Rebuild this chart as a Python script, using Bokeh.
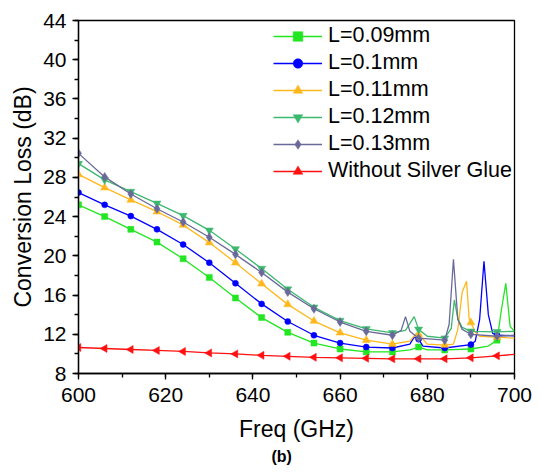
import math
from bokeh.plotting import figure
from bokeh.models import (Legend, LegendItem, SingleIntervalTicker, Range1d, Title)
from bokeh.embed import file_html
from bokeh.resources import INLINE

# ---------------- data ----------------
marker_freqs = [600, 606, 612, 618, 624, 630, 636, 642, 648, 654, 660, 666, 672, 678, 684, 690, 696]

f_009 = [600, 606, 612, 618, 624, 630, 636, 642, 648, 654, 660, 666, 672, 676, 678, 680, 684, 690, 694, 696, 697, 698, 699, 700]
v_009 = [25.2, 24.0, 22.7, 21.4, 19.7, 17.8, 15.7, 13.7, 12.2, 11.1, 10.5, 10.2, 10.2, 10.4, 10.7, 10.4, 10.4, 10.5, 10.8, 11.4, 14.5, 17.2, 12.8, 12.3]

f_010 = [600, 606, 612, 618, 624, 630, 636, 642, 648, 654, 660, 666, 672, 676, 677, 678, 679, 684, 690, 691, 692, 693, 694, 695, 696, 700]
v_010 = [26.45, 25.2, 24.05, 22.7, 21.15, 19.3, 17.2, 15.1, 13.3, 11.9, 11.1, 10.7, 10.6, 11.0, 11.7, 11.5, 10.8, 10.6, 10.95, 11.3, 13.5, 19.45, 14.0, 12.1, 11.9, 11.85]

f_011 = [600, 606, 612, 618, 624, 630, 636, 642, 648, 654, 660, 666, 672, 676, 677.5, 678, 680, 684, 686, 687, 688, 689, 689.6, 690, 691, 692, 696, 700]
v_011 = [28.3, 26.95, 25.7, 24.5, 23.15, 21.35, 19.3, 17.15, 15.05, 13.35, 12.15, 11.4, 11.0, 11.3, 12.1, 12.0, 11.0, 10.9, 11.0, 12.5, 16.3, 17.4, 13.6, 13.2, 12.2, 11.8, 11.7, 11.6]

f_012 = [600, 606, 612, 618, 624, 630, 636, 642, 648, 654, 660, 666, 672, 675, 677, 678, 680, 684, 685.5, 686.2, 687, 688, 690, 696, 700]
v_012 = [29.4, 27.75, 26.55, 25.35, 24.1, 22.6, 20.7, 18.7, 16.6, 14.75, 13.4, 12.55, 12.15, 12.4, 13.8, 12.5, 11.8, 11.6, 12.6, 15.5, 13.6, 12.7, 12.3, 12.25, 12.3]

f_013 = [600, 606, 612, 618, 624, 630, 636, 642, 648, 654, 660, 666, 672, 674, 675, 676, 678, 684, 685, 686, 687, 688, 690, 696, 700]
v_013 = [30.45, 28.05, 26.3, 24.8, 23.45, 21.9, 20.15, 18.3, 16.3, 14.6, 13.25, 12.3, 11.9, 12.4, 13.8, 12.3, 11.6, 11.4, 13.0, 19.65, 13.5, 12.5, 12.0, 11.8, 11.9]

f_glue = [600, 606, 612, 618, 624, 630, 636, 642, 648, 654, 660, 666, 672, 678, 684, 690, 696, 700]
v_glue = [10.65, 10.55, 10.45, 10.35, 10.25, 10.1, 10.0, 9.85, 9.75, 9.65, 9.6, 9.55, 9.5, 9.5, 9.5, 9.6, 9.8, 9.95]

labels = ["L=0.09mm", "L=0.1mm", "L=0.11mm", "L=0.12mm", "L=0.13mm", "Without Silver Glue"]
x_label = "Freq (GHz)"
y_label = "Conversion Loss (dB)"
panel_tag = "(b)"

# ---------------- styling ----------------
series = [
    (f_009, v_009, "#22E622", "square", 0.0, 6),
    (f_010, v_010, "#0000FF", "circle", 0.0, 6),
    (f_011, v_011, "#FFB81C", "triangle", 0.0, 8),
    (f_012, v_012, "#3CB96E", "inverted_triangle", 0.0, 8),
    (f_013, v_013, "#6A6A9A", "diamond", 0.0, 9),
    (f_glue, v_glue, "#FF1010", "triangle", math.pi / 2, 8),
]

FONT = "Liberation Sans"

p = figure(width=533, height=466, output_backend="svg", toolbar_location=None,
           x_range=Range1d(600, 700), y_range=Range1d(8, 44),
           min_border_left=78, min_border_right=19, min_border_top=20, min_border_bottom=93)
p.xgrid.visible = False
p.ygrid.visible = False
p.outline_line_color = "black"
p.outline_line_width = 1.3
p.background_fill_color = "white"
p.border_fill_color = "white"

items = []
for (fx, vy, col, mk, ang, sz), lab in zip(series, labels):
    r_line = p.line(fx, vy, line_color=col, line_width=1.3)
    mx = [f for f in fx if f in marker_freqs]
    my = [v for f, v in zip(fx, vy) if f in marker_freqs]
    r_m = p.scatter(mx, my, marker=mk, size=sz, angle=ang, fill_color=col,
                    line_color=col, line_width=0.5)
    items.append(LegendItem(label=lab, renderers=[r_line, r_m]))

legend = Legend(items=items, location=(195, 190))
legend.padding = 0
legend.margin = 0
legend.spacing = 2
legend.glyph_width = 49
legend.glyph_height = 24
legend.label_height = 24
legend.label_standoff = 6
legend.label_text_font = FONT
legend.label_text_font_size = "21.5px"
legend.label_text_color = "black"
legend.border_line_alpha = 0
legend.background_fill_alpha = 0
p.add_layout(legend, "center")

for ax in (p.xaxis[0], p.yaxis[0]):
    ax.axis_line_width = 1.3
    ax.major_tick_line_width = 1.3
    ax.minor_tick_line_width = 1.3
    ax.major_tick_in = 0
    ax.major_tick_out = 6
    ax.minor_tick_in = 0
    ax.minor_tick_out = 4
    ax.major_label_text_font = FONT
    ax.major_label_text_font_size = "21px"
    ax.major_label_text_color = "black"
    ax.axis_label_text_font = FONT
    ax.axis_label_text_font_size = "23px"
    ax.axis_label_text_font_style = "normal"
    ax.axis_label_text_color = "black"
    ax.major_label_standoff = 6

p.xaxis[0].major_label_standoff = 8
p.xaxis[0].ticker = SingleIntervalTicker(interval=20, num_minor_ticks=2)
p.yaxis[0].ticker = SingleIntervalTicker(interval=4, num_minor_ticks=2)
p.xaxis[0].axis_label = x_label
p.yaxis[0].axis_label = y_label
p.xaxis[0].axis_label_standoff = 11
p.yaxis[0].axis_label_standoff = 4

tag = Title(text=panel_tag, align="left", offset=193, text_font=FONT,
            text_font_size="16px", text_font_style="bold", text_color="black",
            standoff=3)
p.add_layout(tag, "below")

open("out.html", "w").write(file_html(p, INLINE))
